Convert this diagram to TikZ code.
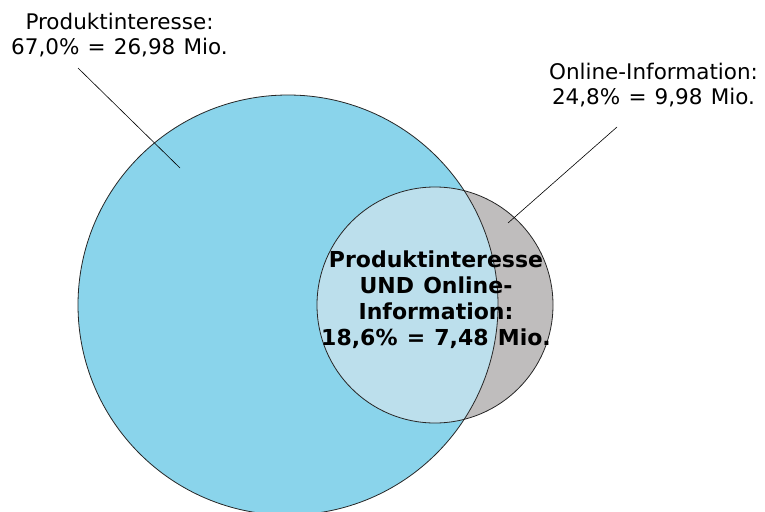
\documentclass[tikz,border=0pt]{standalone}
\usepackage{fontspec}
\setmainfont[WordSpace=1.2]{DejaVu Sans}
\begin{document}
\begin{tikzpicture}[x=1pt,y=-1pt,
  setline/.style={draw=black!85,line width=0.8pt},
  lead/.style={draw=black,line width=0.6pt},
  lbl/.style={align=center,inner sep=0pt,font=\fontsize{21.5}{25}\selectfont},
  midlbl/.style={align=center,inner sep=0pt,font=\fontsize{22}{26}\selectfont\bfseries}]
\definecolor{setblue}{RGB}{138,212,235}
\definecolor{setgray}{RGB}{191,189,189}
\definecolor{setboth}{RGB}{188,223,236}
\useasboundingbox (0,0) rectangle (765,511);
\begin{scope}
  \clip (0,0) rectangle (765,511);
  % the two sets
  \fill[setblue] (288,305) circle (210);
  \fill[setgray] (435,305) circle (118);
  % their overlap
  \begin{scope}
    \clip (288,305) circle (210);
    \fill[setboth] (435,305) circle (118);
  \end{scope}
  \draw[setline] (288,305) circle (210);
  \draw[setline] (435,305) circle (118);
\end{scope}
% labels
\node[lbl] (prod) at (119.5,35) {Produktinteresse:\\67,0\% = 26,98 Mio.};
\node[lbl] (onl) at (653.5,85) {Online-Information:\\24,8\% = 9,98 Mio.};
\node[midlbl] (both) at (436,300) {Produktinteresse\\UND Online-\\Information:\\18,6\% = 7,48 Mio.};
% leader lines
\coordinate (prodA) at (78,68);
\coordinate (prodB) at (180,168);
\coordinate (onlA) at (617,127);
\coordinate (onlB) at (508,223);
\draw[lead] (prodA) -- (prodB);
\draw[lead] (onlA) -- (onlB);
\end{tikzpicture}
\end{document}
